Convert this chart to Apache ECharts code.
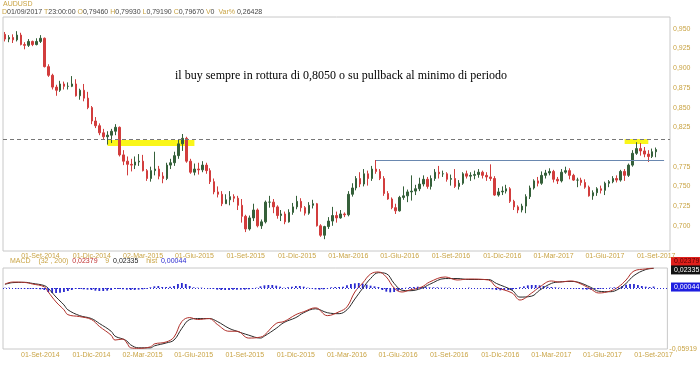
<!DOCTYPE html>
<html><head><meta charset="utf-8">
<script src="https://cdn.jsdelivr.net/npm/echarts@6/dist/echarts.min.js"></script>
<style>html,body{margin:0;padding:0;background:#fff}#c{width:700px;height:365px}</style>
</head><body><div id="c"></div>
<script>
// ---------- data ----------
const startWeek = '2014-06-30';
const weekCount = 169;
const xTickLabels = ['01-Set-2014','01-Dic-2014','02-Mar-2015','01-Giu-2015','01-Set-2015','01-Dic-2015','01-Mar-2016','01-Giu-2016','01-Set-2016','01-Dic-2016','01-Mar-2017','01-Giu-2017','01-Set-2017'];
const priceTicks = [0.950,0.925,0.900,0.875,0.850,0.825,0.775,0.750,0.725,0.700];
// weekly candles [open, close, low, high]
const ohlc = [
[0.9430,0.9370,0.9340,0.9460],[0.9370,0.9390,0.9330,0.9420],[0.9390,0.9360,0.9320,0.9430],[0.9360,0.9420,0.9340,0.9470],
[0.9420,0.9300,0.9290,0.9450],[0.9300,0.9290,0.9240,0.9330],[0.9290,0.9340,0.9270,0.9370],[0.9340,0.9300,0.9280,0.9350],
[0.9300,0.9340,0.9290,0.9380],[0.9340,0.9380,0.9320,0.9420],[0.9380,0.9020,0.9010,0.9390],[0.9020,0.8910,0.8890,0.9050],
[0.8910,0.8760,0.8730,0.8930],[0.8760,0.8720,0.8650,0.8790],[0.8720,0.8800,0.8700,0.8840],[0.8800,0.8770,0.8730,0.8830],
[0.8770,0.8770,0.8730,0.8820],[0.8770,0.8800,0.8760,0.8900],[0.8800,0.8650,0.8640,0.8860],[0.8650,0.8720,0.8600,0.8740],
[0.8720,0.8620,0.8580,0.8800],[0.8620,0.8500,0.8480,0.8700],[0.8500,0.8330,0.8290,0.8520],[0.8330,0.8270,0.8240,0.8380],
[0.8270,0.8180,0.8150,0.8300],[0.8180,0.8130,0.8100,0.8230],[0.8130,0.8150,0.8030,0.8200],[0.8150,0.8200,0.8050,0.8230],
[0.8200,0.8250,0.8150,0.8290],[0.8250,0.7900,0.7880,0.8260],[0.7900,0.7820,0.7770,0.7960],[0.7820,0.7780,0.7640,0.7880],
[0.7780,0.7770,0.7690,0.7850],[0.7770,0.7810,0.7720,0.7880],[0.7810,0.7820,0.7760,0.7910],[0.7820,0.7700,0.7690,0.7900],
[0.7700,0.7600,0.7570,0.7720],[0.7600,0.7700,0.7560,0.7750],[0.7700,0.7720,0.7640,0.7940],[0.7720,0.7630,0.7590,0.7760],
[0.7630,0.7600,0.7540,0.7680],[0.7600,0.7770,0.7580,0.7800],[0.7770,0.7800,0.7720,0.7850],[0.7800,0.7890,0.7760,0.7940],
[0.7890,0.8040,0.7850,0.8100],[0.8040,0.8110,0.7950,0.8165],[0.8110,0.7820,0.7800,0.8130],[0.7820,0.7680,0.7660,0.7850],
[0.7680,0.7720,0.7640,0.7790],[0.7720,0.7710,0.7650,0.7800],[0.7710,0.7770,0.7680,0.7820],[0.7770,0.7700,0.7660,0.7800],
[0.7700,0.7560,0.7530,0.7730],[0.7560,0.7430,0.7400,0.7600],[0.7430,0.7400,0.7360,0.7500],[0.7400,0.7280,0.7250,0.7440],
[0.7280,0.7330,0.7280,0.7400],[0.7330,0.7370,0.7260,0.7440],[0.7370,0.7350,0.7300,0.7400],[0.7350,0.7260,0.7200,0.7380],
[0.7260,0.7120,0.7040,0.7340],[0.7120,0.6960,0.6920,0.7140],[0.6960,0.7100,0.6940,0.7130],[0.7100,0.7200,0.7060,0.7280],
[0.7200,0.7000,0.6980,0.7220],[0.7000,0.7050,0.6960,0.7080],[0.7050,0.7300,0.7030,0.7320],[0.7300,0.7300,0.7230,0.7380],
[0.7300,0.7240,0.7160,0.7340],[0.7240,0.7130,0.7090,0.7260],[0.7130,0.7150,0.7060,0.7200],[0.7150,0.7050,0.7020,0.7180],
[0.7050,0.7170,0.7040,0.7210],[0.7170,0.7240,0.7140,0.7290],[0.7240,0.7310,0.7210,0.7380],[0.7310,0.7230,0.7180,0.7350],
[0.7230,0.7160,0.7130,0.7250],[0.7160,0.7260,0.7140,0.7300],[0.7260,0.7280,0.7220,0.7330],[0.7280,0.7000,0.6990,0.7290],
[0.7000,0.6880,0.6860,0.7020],[0.6880,0.6990,0.6830,0.7000],[0.6990,0.7060,0.6960,0.7110],[0.7060,0.7130,0.7000,0.7240],
[0.7130,0.7100,0.7040,0.7180],[0.7100,0.7150,0.7090,0.7200],[0.7150,0.7140,0.7110,0.7170],[0.7140,0.7400,0.7120,0.7440],
[0.7400,0.7480,0.7370,0.7540],[0.7480,0.7600,0.7450,0.7630],[0.7600,0.7530,0.7490,0.7680],[0.7530,0.7660,0.7500,0.7720],
[0.7660,0.7600,0.7510,0.7700],[0.7600,0.7720,0.7570,0.7760],[0.7720,0.7690,0.7660,0.7835],[0.7690,0.7600,0.7580,0.7720],
[0.7600,0.7410,0.7380,0.7630],[0.7410,0.7340,0.7330,0.7440],[0.7340,0.7230,0.7210,0.7360],[0.7230,0.7190,0.7150,0.7280],
[0.7190,0.7360,0.7180,0.7380],[0.7360,0.7380,0.7330,0.7500],[0.7380,0.7430,0.7300,0.7460],[0.7430,0.7440,0.7320,0.7640],
[0.7440,0.7470,0.7390,0.7520],[0.7470,0.7530,0.7440,0.7610],[0.7530,0.7590,0.7500,0.7640],[0.7590,0.7500,0.7470,0.7620],
[0.7500,0.7600,0.7460,0.7640],[0.7600,0.7680,0.7570,0.7720],[0.7680,0.7660,0.7600,0.7760],[0.7660,0.7660,0.7620,0.7700],
[0.7660,0.7590,0.7560,0.7680],[0.7590,0.7600,0.7510,0.7650],[0.7600,0.7500,0.7480,0.7720],[0.7500,0.7540,0.7460,0.7580],
[0.7540,0.7660,0.7520,0.7680],[0.7660,0.7630,0.7600,0.7700],[0.7630,0.7640,0.7570,0.7680],[0.7640,0.7650,0.7590,0.7700],
[0.7650,0.7680,0.7610,0.7720],[0.7680,0.7640,0.7600,0.7700],[0.7640,0.7620,0.7570,0.7680],[0.7620,0.7600,0.7570,0.7780],
[0.7600,0.7390,0.7380,0.7630],[0.7390,0.7430,0.7370,0.7480],[0.7430,0.7440,0.7390,0.7500],[0.7440,0.7470,0.7410,0.7520],
[0.7470,0.7310,0.7290,0.7490],[0.7310,0.7240,0.7200,0.7330],[0.7240,0.7200,0.7160,0.7260],[0.7200,0.7250,0.7170,0.7280],
[0.7250,0.7370,0.7160,0.7400],[0.7370,0.7480,0.7340,0.7510],[0.7480,0.7570,0.7460,0.7590],[0.7570,0.7540,0.7500,0.7620],
[0.7540,0.7640,0.7520,0.7690],[0.7640,0.7670,0.7600,0.7710],[0.7670,0.7690,0.7640,0.7730],[0.7690,0.7590,0.7550,0.7710],
[0.7590,0.7570,0.7530,0.7620],[0.7570,0.7680,0.7550,0.7720],[0.7680,0.7700,0.7660,0.7750],[0.7700,0.7640,0.7590,0.7730],
[0.7640,0.7580,0.7570,0.7660],[0.7580,0.7580,0.7490,0.7610],[0.7580,0.7550,0.7510,0.7610],[0.7550,0.7490,0.7470,0.7590],
[0.7490,0.7380,0.7370,0.7510],[0.7380,0.7420,0.7330,0.7450],[0.7420,0.7470,0.7380,0.7490],[0.7470,0.7450,0.7410,0.7510],
[0.7450,0.7540,0.7390,0.7560],[0.7540,0.7560,0.7490,0.7580],[0.7560,0.7600,0.7540,0.7630],[0.7600,0.7580,0.7550,0.7640],
[0.7580,0.7690,0.7560,0.7710],[0.7690,0.7640,0.7570,0.7720],[0.7640,0.7770,0.7620,0.7790],[0.7770,0.7920,0.7750,0.7960],
[0.7920,0.7980,0.7900,0.8060],[0.7980,0.7950,0.7890,0.8050],[0.7950,0.7910,0.7870,0.8000],[0.7910,0.7880,0.7810,0.7960],
[0.7880,0.7940,0.7860,0.7980],[0.7940,0.7967,0.7870,0.7993]
];
// MACD panel, read at [week index, value]
const macdLine = [[0,0.0074],[2,0.0094],[5,0.0090],[7,0.0074],[10,0.0045],[11,-0.0007],[13,-0.011],[15,-0.019],[16,-0.024],[19,-0.026],[22,-0.029],[24,-0.036],[27,-0.045],[28,-0.050],[30,-0.049],[31,-0.053],[32,-0.058],[34,-0.0585],[37,-0.057],[38,-0.054],[41,-0.052],[43,-0.047],[45,-0.031],[47,-0.027],[49,-0.029],[52,-0.028],[54,-0.034],[57,-0.041],[59,-0.041],[62,-0.048],[65,-0.047],[66,-0.045],[69,-0.033],[71,-0.031],[74,-0.024],[76,-0.021],[79,-0.017],[82,-0.025],[85,-0.021],[87,-0.016],[89,-0.0008],[91,0.0084],[93,0.0176],[95,0.0197],[97,0.0146],[99,0.0033],[101,-0.0008],[103,0.0013],[106,0.0043],[108,0.0094],[112,0.0146],[115,0.0115],[118,0.0125],[123,0.0115],[125,0.0043],[129,-0.0018],[131,-0.0090],[134,-0.0018],[136,0.0043],[139,0.0105],[141,0.0094],[144,0.0105],[146,0.0084],[149,0.0023],[151,-0.0018],[154,0.0002],[156,0.0043],[158,0.0115],[160,0.0207],[163,0.0228],[165,0.02379]];
const signalLine = [[0,0.0070],[2,0.0088],[5,0.0091],[7,0.0080],[10,0.0058],[11,0.0030],[13,-0.006],[15,-0.014],[16,-0.019],[19,-0.025],[22,-0.028],[24,-0.033],[27,-0.041],[28,-0.046],[30,-0.049],[31,-0.051],[32,-0.055],[34,-0.058],[37,-0.058],[38,-0.056],[41,-0.053],[43,-0.050],[45,-0.038],[47,-0.029],[49,-0.028],[52,-0.028],[54,-0.031],[57,-0.038],[59,-0.041],[62,-0.045],[65,-0.048],[66,-0.046],[69,-0.038],[71,-0.032],[74,-0.027],[76,-0.022],[79,-0.018],[82,-0.022],[85,-0.023],[87,-0.019],[89,-0.008],[91,0.003],[93,0.013],[95,0.019],[97,0.018],[99,0.008],[101,0.001],[103,0.0005],[106,0.003],[108,0.007],[112,0.013],[115,0.013],[118,0.012],[123,0.012],[125,0.008],[129,0.001],[131,-0.006],[134,-0.005],[136,0.001],[139,0.008],[141,0.0095],[144,0.010],[146,0.009],[149,0.004],[151,0.000],[154,-0.0005],[156,0.002],[158,0.008],[160,0.016],[163,0.0222],[165,0.02335]];
const histValues = [
0.0001,0.0001,0.0000,-0.0001,-0.0001,-0.0002,-0.0002,-0.0002,-0.0003,-0.0004,
-0.0006,-0.0012,-0.0015,-0.0015,-0.0014,-0.0012,-0.0009,-0.0006,
-0.0003,-0.0003,-0.0004,-0.0005,
-0.0006,-0.0008,-0.0009,-0.0009,-0.0008,-0.0006,
-0.0003,-0.0003,-0.0004,-0.0005,
-0.0006,-0.0006,-0.0005,-0.0004,-0.0002,
0.0002,0.0005,0.0006,0.0003,0.0003,0.0004,
0.0006,0.0012,0.0015,0.0012,0.0006,
0.0002,0.0001,0.0001,0.0000,-0.0001,
-0.0003,-0.0005,-0.0006,-0.0006,-0.0006,-0.0005,-0.0005,
-0.0005,-0.0005,-0.0004,-0.0002,0.0001,
0.0005,0.0008,0.0009,0.0009,0.0007,0.0004,
0.0001,0.0002,
0.0004,0.0006,0.0006,0.0004,
0.0001,-0.0001,
-0.0004,-0.0005,-0.0004,
-0.0001,
0.0002,0.0003,0.0003,0.0004,
0.0008,0.0012,0.0014,0.0015,0.0013,0.0010,
0.0007,0.0005,0.0003,
-0.0006,-0.0011,-0.0013,-0.0012,-0.0008,
-0.0003,0.0001,
0.0003,0.0003,0.0004,0.0003,0.0003,
0.0002,0.0002,0.0002,0.0001,0.0001,0.0001,0.0000,0.0000,
0.0000,0.0000,0.0001,0.0000,0.0000,-0.0001,-0.0001,-0.0002,
-0.0004,-0.0006,-0.0007,-0.0006,-0.0006,-0.0005,-0.0003,
0.0002,0.0005,0.0008,0.0009,0.0009,0.0008,0.0006,0.0004,
0.0003,0.0002,0.0001,
0.0000,0.0000,-0.0001,-0.0001,-0.0002,
-0.0004,-0.0005,-0.0005,-0.0004,-0.0003,-0.0002,
0.0000,0.0001,0.0002,0.0002,
0.0006,0.0010,0.0012,0.0012,0.0009,
0.0006,0.0004,0.0003,0.00044
];
const lastQuote = {date:'01/09/2017', time:'23:00:00', open:0.79460, high:0.79930, low:0.79190, close:0.79670, vol:0, varPct:0.26428};
const macdLast = {macd:0.02379, signal:0.02335, hist:0.00044, min:-0.05919};
const breakoutLevel = 0.8050;
const resistanceLevel = 0.7830;
const resistanceWeeks = [94, 167];
const yellowZones = [[26, 48, 0.8013, 0.8089], [157, 163, 0.8038, 0.8101]];

// ---------- helpers ----------
const gold = '#c9a445';
const comma = (v, d) => v.toFixed(d).replace('.', ',');
const categories = [];
const t0 = Date.parse(startWeek + 'T00:00:00Z');
const WEEK = 7 * 864e5;
for (let i = 0; i < weekCount; i++) categories.push(new Date(t0 + i * WEEK).toISOString().slice(0, 10));
const mesi = {Gen:0,Feb:1,Mar:2,Apr:3,Mag:4,Giu:5,Lug:6,Ago:7,Set:8,Ott:9,Nov:10,Dic:11};
const tickMap = {};
xTickLabels.forEach(s => {
  const [dd, mm, yy] = s.split('-');
  const t = Date.UTC(+yy, mesi[mm], +dd);
  tickMap[Math.floor((t - t0) / WEEK)] = s;
});

const chart = echarts.init(document.getElementById('c'), null, {renderer: 'canvas'});
const xLabel = (margin) => ({
  interval: (i) => tickMap[i] !== undefined,
  formatter: (v, i) => tickMap[i] || '',
  color: gold, fontSize: 7, fontFamily: 'Arial', margin: margin
});
const baseX = {type: 'category', data: categories, boundaryGap: true,
  axisLine: {show: false}, axisTick: {show: false}, splitLine: {show: false}};

chart.setOption({
  animation: false,
  backgroundColor: '#fff',
  grid: [
    {left: 3, right: 30, top: 17, height: 234, show: true, borderColor: '#c8c8c8', borderWidth: 1},
    {left: 3, right: 30, top: 268, height: 81, show: true, borderColor: '#c8c8c8', borderWidth: 1}
  ],
  xAxis: [
    Object.assign({}, baseX, {gridIndex: 0, axisLabel: xLabel(2)}),
    Object.assign({}, baseX, {gridIndex: 1, axisLabel: xLabel(3)})
  ],
  yAxis: [
    {gridIndex: 0, type: 'value', position: 'right', min: 0.668, max: 0.965,
     axisLine: {show: false}, axisTick: {show: false}, splitLine: {show: false},
     axisLabel: {customValues: priceTicks, formatter: v => comma(v, 3), color: gold, fontSize: 7, fontFamily: 'Arial', margin: 3}},
    {gridIndex: 1, type: 'value', position: 'right', min: macdLast.min, max: macdLast.macd,
     axisLine: {show: false}, axisTick: {show: false}, splitLine: {show: false},
     axisLabel: {customValues: [macdLast.min], formatter: v => comma(v, 5), color: gold, fontSize: 7, fontFamily: 'Arial', margin: 2}},
    {gridIndex: 1, type: 'value', show: false, min: -0.0183, max: 0.006}
  ],
  series: [
    {
      type: 'candlestick', xAxisIndex: 0, yAxisIndex: 0, data: ohlc, barWidth: 2,
      itemStyle: {color: '#35603a', color0: '#d23d3d', borderColor: '#35603a', borderColor0: '#d23d3d', borderWidth: 1},
      markArea: {
        silent: true,
        itemStyle: {color: 'rgba(250,245,0,0.9)'},
        data: yellowZones.map(z => [{coord: [categories[z[0]], z[2]]}, {coord: [categories[z[1]], z[3]]}])
      },
      markLine: {
        silent: true, symbol: 'none', animation: false,
        data: [
          {yAxis: breakoutLevel, lineStyle: {type: [4, 3], color: '#777', width: 1}, label: {show: false}},
          [{coord: [categories[resistanceWeeks[0]], resistanceLevel], lineStyle: {type: 'solid', color: '#6a88b0', width: 1}, label: {show: false}},
           {coord: [categories[resistanceWeeks[1]], resistanceLevel]}],
          {yAxis: lastQuote.close, lineStyle: {opacity: 0}, label: {show: true, position: 'end', distance: 2,
            formatter: comma(lastQuote.close, 5), backgroundColor: '#d9d9d9', color: '#222', fontSize: 7, fontFamily: 'Arial', padding: [2, 3]}}
        ]
      }
    },
    {
      type: 'bar', xAxisIndex: 1, yAxisIndex: 2, data: histValues, barWidth: 1.8,
      itemStyle: {color: '#2a2ad0'},
      markLine: {silent: true, symbol: 'none', data: [{yAxis: 0}], label: {show: false},
        lineStyle: {type: [1, 2], color: '#2a2ad0', width: 1}}
    },
    {type: 'line', xAxisIndex: 1, yAxisIndex: 1, data: signalLine, showSymbol: false, smooth: 0.4,
     lineStyle: {color: '#2a2a2a', width: 1}},
    {type: 'line', xAxisIndex: 1, yAxisIndex: 1, data: macdLine, showSymbol: false, smooth: 0.4,
     lineStyle: {color: '#b0302a', width: 1}}
  ]
});

// header texts and right-side value boxes
const yM = chart.convertToPixel({yAxisIndex: 1}, macdLast.macd);
const yS = chart.convertToPixel({yAxisIndex: 1}, macdLast.signal);
const yH = chart.convertToPixel({yAxisIndex: 2}, macdLast.hist);
const box = (y, txt, bg, fg) => ({type: 'text', left: 671, top: y - 4,
  style: {text: txt, fill: fg, backgroundColor: bg, font: '7px Arial', padding: [1, 3, 1, 3], width: 23}});
const g = (s) => '{g|' + s + '}';
const v = (s) => '{v|' + s + '}';
chart.setOption({
  graphic: [
    {type: 'text', left: 3, top: 1, style: {text: 'AUDUSD', fill: gold, font: '7px Arial'}},
    {type: 'text', left: 2, top: 9, style: {
      text: g('D') + v(lastQuote.date) + ' ' + g('T') + v(lastQuote.time) + ' ' + g('O') + v(comma(lastQuote.open, 5)) + ' ' +
            g('H') + v(comma(lastQuote.high, 5)) + ' ' + g('L') + v(comma(lastQuote.low, 5)) + ' ' + g('C') + v(comma(lastQuote.close, 5)) + ' ' +
            g('V') + v(String(lastQuote.vol)) + '  ' + g('Var%') + ' ' + v(comma(lastQuote.varPct, 5)),
      font: '7px Arial',
      rich: {g: {fill: gold, fontSize: 7, fontFamily: 'Arial'}, v: {fill: '#444', fontSize: 7, fontFamily: 'Arial'}}}},
    {type: 'text', left: 10, top: 258, style: {
      text: g('MACD') + '    ' + g('(32 , 200)') + '  ' + '{r|' + comma(macdLast.macd, 5) + '}' + '    ' + g('9') + '  ' +
            '{k|' + comma(macdLast.signal, 5) + '}' + '    ' + g('hist') + '  ' + '{b|' + comma(macdLast.hist, 5) + '}',
      font: '7px Arial',
      rich: {g: {fill: gold, fontSize: 7, fontFamily: 'Arial'}, r: {fill: '#c03030', fontSize: 7, fontFamily: 'Arial'},
             k: {fill: '#222', fontSize: 7, fontFamily: 'Arial'}, b: {fill: '#2a2ad0', fontSize: 7, fontFamily: 'Arial'}}}},
    {type: 'text', x: 341, y: 76, style: {text: 'il buy sempre in rottura di 0,8050 o su pullback al minimo di periodo',
      fill: '#000', font: '12px "Liberation Serif", "Times New Roman", serif', align: 'center', verticalAlign: 'middle'}},
    box(yM - 7, comma(macdLast.macd, 5), '#e0201c', '#5a0000'),
    box(yS + 1, comma(macdLast.signal, 5), '#111', '#fff'),
    box(yH, comma(macdLast.hist, 5), '#1e1ee0', '#fff')
  ]
});
</script></body></html>
